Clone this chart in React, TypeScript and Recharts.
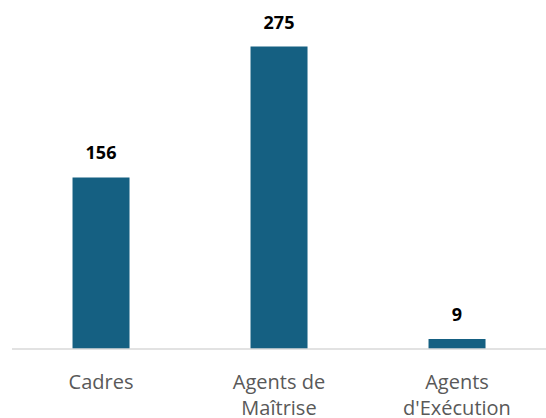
import React from "react";
import { BarChart, Bar, XAxis, YAxis, LabelList, Text } from "recharts";

const categories = ["Cadres", "Agents de Maîtrise", "Agents d'Exécution"];
const values = [156, 275, 9];

const data = categories.map((c, i) => ({ name: c, value: values[i] }));

const FONT = "'Open Sans', 'Noto Sans', sans-serif";

const CatTick = (props: any) => {
  const { x, y, payload } = props;
  return (
    <Text
      x={x}
      y={y + 20}
      width={112}
      textAnchor="middle"
      verticalAnchor="start"
      lineHeight={26}
      fill="#595959"
      fontSize={20}
      fontFamily={FONT}
    >
      {payload.value}
    </Text>
  );
};

export default function App() {
  return (
    <div style={{ position: "absolute", left: 0, top: 0, width: 546, height: 418, background: "#fff" }}>
      <BarChart
        width={546}
        height={418}
        data={data}
        margin={{ top: 19, right: 0, bottom: 0, left: 12 }}
        barCategoryGap="34%"
      >
        <XAxis
          dataKey="name"
          height={69}
          axisLine={{ stroke: "#d9d9d9", strokeWidth: 1.3 }}
          tickLine={false}
          tickMargin={0}
          tick={<CatTick />}
          interval={0}
        />
        <YAxis hide domain={[0, 300]} />
        <Bar dataKey="value" fill="#156082" isAnimationActive={false}>
          <LabelList
            dataKey="value"
            position="top"
            offset={18}
            fill="#000"
            fontSize={18}
            fontWeight="bold"
            fontFamily={FONT}
          />
        </Bar>
      </BarChart>
    </div>
  );
}
